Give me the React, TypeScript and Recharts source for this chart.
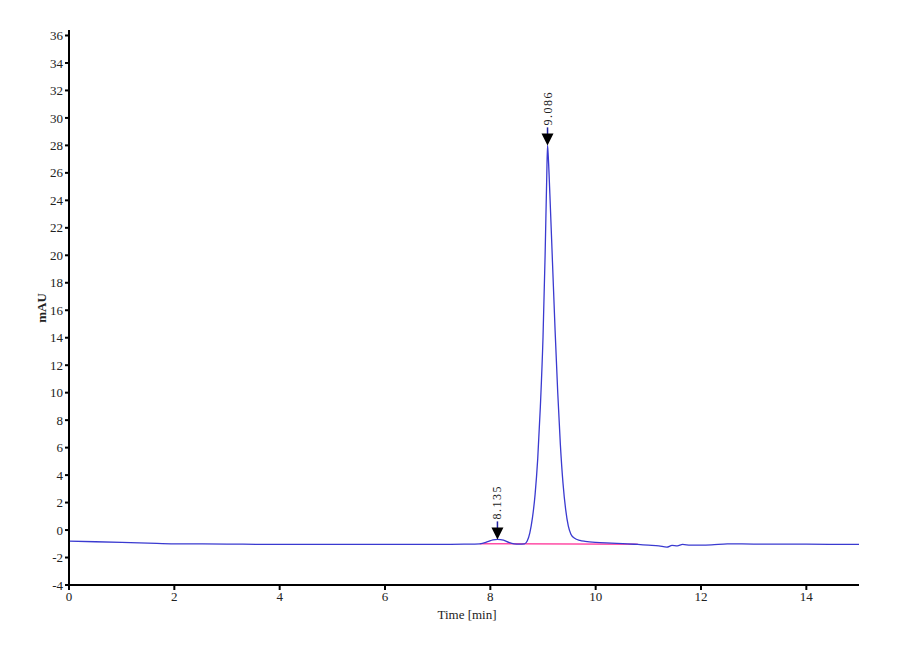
import { LineChart, Line, XAxis, YAxis, ReferenceLine, ReferenceDot, Label } from 'recharts';

// chromatogram trace
const time = [
  0, 0.5, 1, 1.5, 2, 3, 4, 5, 6, 7, 7.5, 7.8, 7.95, 8.05, 8.135, 8.25, 8.35, 8.45, 8.55, 8.65,
  8.7, 8.75, 8.8, 8.85, 8.9, 8.95, 9.0, 9.04, 9.07, 9.086, 9.1, 9.13, 9.18, 9.23, 9.28, 9.33,
  9.38, 9.43, 9.48, 9.53, 9.6, 9.7, 9.8, 10.0, 10.3, 10.6, 10.8, 11.0, 11.2, 11.35, 11.45,
  11.55, 11.65, 11.8, 12.0, 12.2, 12.5, 13, 14, 15,
];
const signal = [
  -0.8, -0.85, -0.9, -0.95, -1.0, -1.02, -1.05, -1.05, -1.05, -1.05, -1.03, -1.0, -0.85, -0.72,
  -0.68, -0.74, -0.9, -1.0, -1.02, -1.0, -0.8, -0.2, 0.9, 2.6, 5.2, 9.0, 14.0, 20.0, 25.5, 28.0,
  27.2, 24.5, 19.5, 14.5, 10.0, 6.2, 3.4, 1.5, 0.3, -0.3, -0.6, -0.75, -0.82, -0.9, -0.95, -1.0,
  -1.05, -1.1, -1.15, -1.25, -1.12, -1.15, -1.05, -1.1, -1.1, -1.08, -1.0, -1.02, -1.03, -1.05,
];

const peakTimes = [8.135, 9.086];
const peakHeights = [-0.68, 28.0];
const peakLabels = ['8.135', '9.086'];

const baseTimes = [7.8, 10.8];
const baseValues = [-1.0, -1.03];

const xTicks = [0, 2, 4, 6, 8, 10, 12, 14];
const yTicks = [-4, -2, 0, 2, 4, 6, 8, 10, 12, 14, 16, 18, 20, 22, 24, 26, 28, 30, 32, 34, 36];

const chromData = time.map((t, i) => ({ t, mAU: signal[i] }));

const serif = '"Liberation Serif", "Times New Roman", serif';

function PeakMarker(props: any) {
  const { cx, cy, label } = props;
  if (cx == null || cy == null) return null;
  const tx = cx + 4;
  const ty = cy - 20;
  return (
    <g>
      <line x1={cx} y1={cy - 18} x2={cx} y2={cy - 11} stroke="#2020a0" strokeWidth={1.5} />
      <path d={`M${cx - 6},${cy - 12} L${cx + 6},${cy - 12} L${cx},${cy} Z`} fill="#000" />
      <text
        x={tx}
        y={ty}
        transform={`rotate(-90 ${tx} ${ty})`}
        fontFamily={serif}
        fontSize={12}
        letterSpacing={1.5}
        fill="#222"
      >
        {label}
      </text>
    </g>
  );
}

export default function App() {
  return (
    <div style={{ position: 'absolute', left: 0, top: 0, width: 900, height: 660, background: '#fff', fontFamily: serif }}>
      <LineChart
        width={900}
        height={660}
        data={chromData}
        margin={{ top: 30, right: 41, bottom: 45, left: 0 }}
        style={{ fontFamily: serif }}
      >
        <XAxis
          dataKey="t"
          type="number"
          domain={[0, 15]}
          ticks={xTicks}
          allowDataOverflow
          stroke="#000"
          strokeWidth={2}
          tickSize={5}
          height={30}
          tick={{ fontFamily: serif, fontSize: 13, fill: '#222' }}
        >
          <Label
            content={() => (
              <text x={467} y={619} textAnchor="middle" fontFamily={serif} fontSize={13} fill="#222">
                Time [min]
              </text>
            )}
          />
        </XAxis>
        <YAxis
          type="number"
          domain={[-4, 36.4]}
          ticks={yTicks}
          allowDataOverflow
          interval={0}
          width={69}
          stroke="#000"
          strokeWidth={2}
          tickSize={4}
          tick={{ fontFamily: serif, fontSize: 13, fill: '#222' }}
        >
          <Label
            content={() => (
              <text
                x={46}
                y={308}
                transform="rotate(-90 46 308)"
                textAnchor="middle"
                fontFamily={serif}
                fontSize={13}
                fontWeight="bold"
                fill="#222"
              >
                mAU
              </text>
            )}
          />
        </YAxis>
        <ReferenceLine
          segment={[
            { x: baseTimes[0], y: baseValues[0] },
            { x: baseTimes[1], y: baseValues[1] },
          ]}
          stroke="#ff4da6"
          strokeWidth={1.5}
        />
        <Line
          dataKey="mAU"
          type="monotone"
          stroke="#3a3ad0"
          strokeWidth={1.3}
          dot={false}
          isAnimationActive={false}
        />
        {peakTimes.map((t, i) => (
          <ReferenceDot
            key={peakLabels[i]}
            x={t}
            y={peakHeights[i]}
            shape={(p: any) => <PeakMarker {...p} label={peakLabels[i]} />}
          />
        ))}
      </LineChart>
    </div>
  );
}
